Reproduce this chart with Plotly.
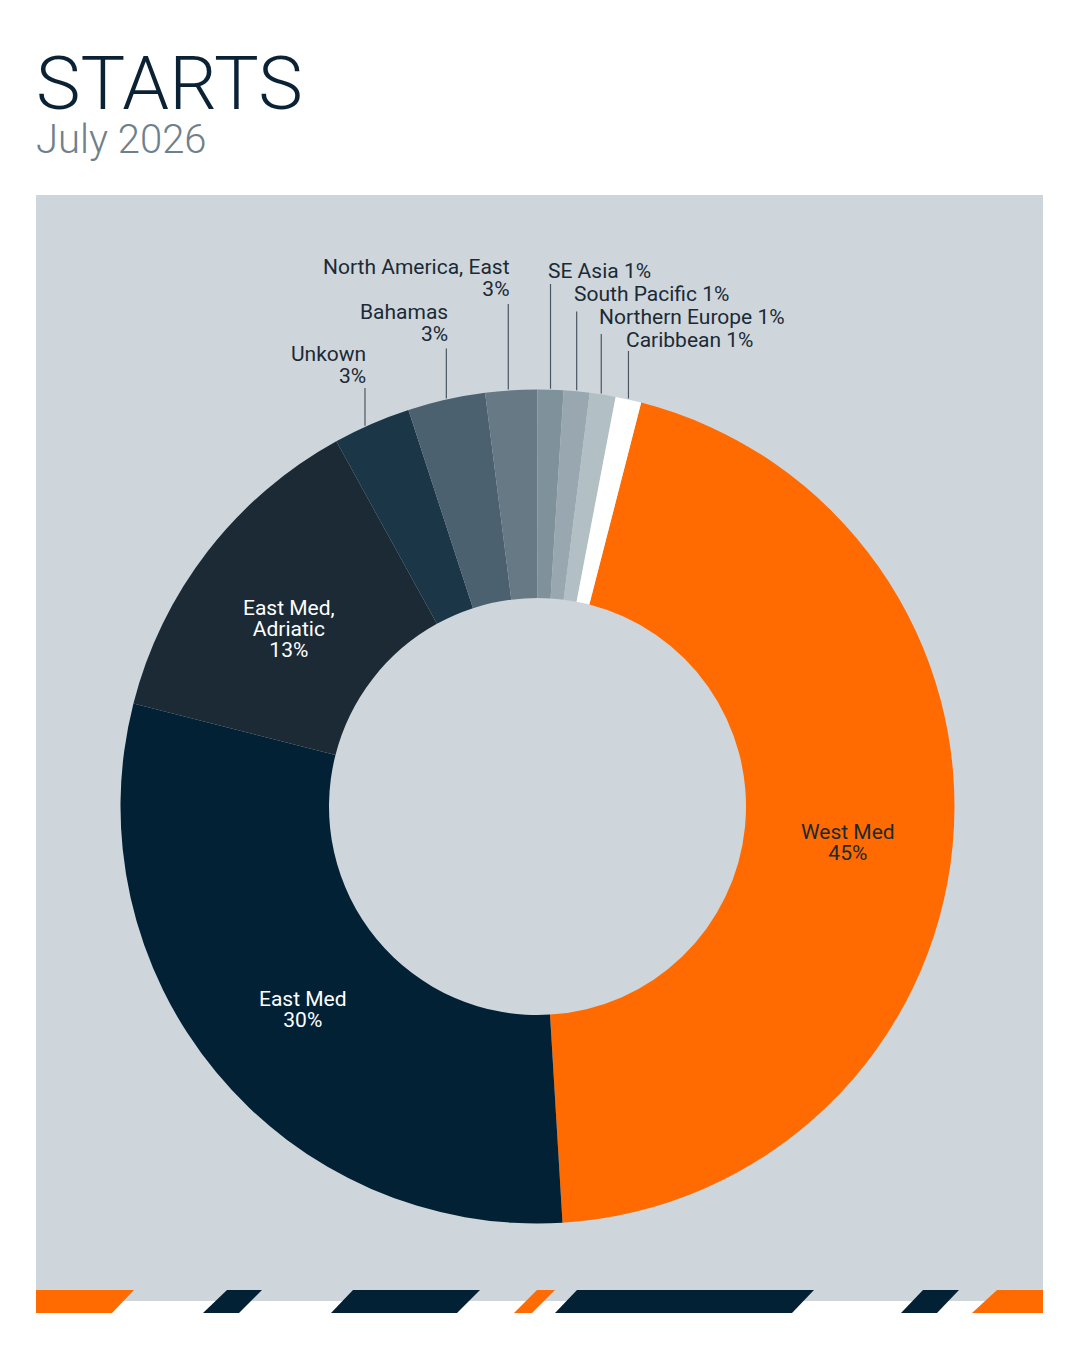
import math
import plotly.graph_objects as go

# ---------------- data ----------------
regions = ["West Med", "East Med", "East Med, Adriatic", "Unkown", "Bahamas",
           "North America, East", "SE Asia", "South Pacific", "Northern Europe", "Caribbean"]
shares = [45.0, 29.9, 13.0, 3.0, 3.0, 2.0, 1.0, 1.0, 1.0, 1.0]
pct_labels = ["45%", "30%", "13%", "3%", "3%", "3%", "1%", "1%", "1%", "1%"]
colors = ["#FF6B00", "#022135", "#1B2A35", "#1B3647", "#4B616F",
          "#667985", "#7F929C", "#99A8B0", "#B2BFC5", "#FFFFFF"]

# ---------------- layout constants ----------------
W, H = 1080, 1350
CX, CY, R = 537.5, 806.5, 417.0
HOLE = 0.5
ROT = 14.4
PANEL = "#CED6DC"
DARK = "#1B2A35"
FONT = "Roboto"
LBL = 21          # label font size (px)


def px(x):
    return x / W


def py(y):
    return 1 - y / H


def sized(t, size, color=None):
    st = f"font-size:{size}px"
    if color:
        st += f";color:{color}"
    return f'<span style="{st}">{t}</span>'


fig = go.Figure()
fig.add_trace(go.Pie(
    labels=regions, values=shares, sort=False, direction="clockwise",
    rotation=ROT, hole=HOLE, textinfo="none", hoverinfo="label+percent",
    marker=dict(colors=colors, line=dict(width=0)),
    domain=dict(x=[px(CX - R), px(CX + R)], y=[py(CY + R), py(CY - R)]),
    showlegend=False,
))

# slice mid angles (degrees clockwise from 12 o'clock) from the data
total = sum(shares)
mids = []
acc = ROT
for v in shares:
    span = v / total * 360
    mids.append(acc + span / 2)
    acc += span


def pt(angle, rad):
    a = math.radians(angle)
    return CX + rad * math.sin(a), CY - rad * math.cos(a)


shapes = []
annotations = []

# background panel
shapes.append(dict(type="rect", xref="paper", yref="paper",
                   x0=px(36), x1=px(1043), y0=py(1301), y1=py(195),
                   fillcolor=PANEL, line=dict(width=0), layer="below"))

# inside labels (West Med, East Med, East Med Adriatic)
inside_colors = [DARK, "#FFFFFF", "#FFFFFF"]
inside_lines = [["West Med"], ["East Med"], ["East Med,", "Adriatic"]]
inside_nudge = [(-1, 6.5), (7, 3.5), (-1, 14)]
mid_r = (R + R * HOLE) / 2
for i in range(3):
    x, y = pt(mids[i], mid_r)
    x += inside_nudge[i][0]
    y += inside_nudge[i][1]
    lines = inside_lines[i] + [pct_labels[i]]
    txt = "<br>".join(sized(t, LBL) for t in lines)
    annotations.append(dict(text=txt, x=px(x), y=py(y), xref="paper", yref="paper",
                            showarrow=False, xanchor="center", yanchor="middle", align="center",
                            font=dict(family=FONT, size=21 / 1.3, color=inside_colors[i])))

# outside labels with vertical leader lines
# (index, side, centre y of last text line, top y of leader line, angle nudge deg)
outside = [(3, "left", 375.3, 388, -1.0), (4, "left", 333.7, 348.5, 0.0),
           (5, "left", 288.9, 304, -0.4),
           (6, "right", 271, 284, 0.0), (7, "right", 294.4, 311.5, 0.0),
           (8, "right", 317.5, 334, -0.2), (9, "right", 339.9, 351, 0.0)]
for idx, side, ylab, ytop, dang in outside:
    x, y = pt(mids[idx] + dang, R)
    shapes.append(dict(type="line", xref="paper", yref="paper",
                       x0=px(x), x1=px(x), y0=py(y - 1), y1=py(ytop),
                       line=dict(color="#4A5661", width=1.2)))
    if side == "left":
        txt = sized(regions[idx], LBL) + "<br>" + sized(pct_labels[idx], LBL)
        annotations.append(dict(text=txt, x=px(x + 3.5), y=py(ylab - 10.75),
                                xref="paper", yref="paper", showarrow=False,
                                xanchor="right", yanchor="middle", align="right",
                                font=dict(family=FONT, size=21.5 / 1.3, color=DARK)))
    else:
        annotations.append(dict(text=f"{regions[idx]} {pct_labels[idx]}", x=px(x - 4.5), y=py(ylab),
                                xref="paper", yref="paper", showarrow=False,
                                xanchor="left", yanchor="middle",
                                font=dict(family=FONT, size=LBL, color=DARK)))

# title block
title_txt = sized("STARTS", 75) + "<br>" + sized("July 2026", 40, "#6F808C")
annotations.append(dict(text=title_txt, x=px(34), y=py(37), xref="paper", yref="paper",
                        showarrow=False, xanchor="left", yanchor="top", align="left",
                        font=dict(family=FONT, size=44 / 1.3, color="#0B2235", weight=300)))

# decorative bottom stripes (parallelograms): top-left, top-right, bottom-right, bottom-left x
stripes = [
    ((36, 134, 112, 36), "#FF6B00"),
    ((227, 262, 239, 203), "#022135"),
    ((353, 480, 457, 331), "#022135"),
    ((537, 555, 532, 514), "#FF6B00"),
    ((577, 814, 792, 555), "#022135"),
    ((923, 959, 937, 901), "#022135"),
    ((997, 1043, 1043, 972), "#FF6B00"),
]
yt, yb = 1290, 1313
for (tl, tr, br, bl), c in stripes:
    path = (f"M {px(tl)} {py(yt)} L {px(tr)} {py(yt)} L {px(br)} {py(yb)} "
            f"L {px(bl)} {py(yb)} Z")
    shapes.append(dict(type="path", xref="paper", yref="paper", path=path,
                       fillcolor=c, line=dict(width=0), layer="above"))

fig.update_layout(
    width=W, height=H, margin=dict(l=0, r=0, t=0, b=0),
    paper_bgcolor="#FFFFFF", plot_bgcolor="#FFFFFF",
    shapes=shapes, annotations=annotations,
    font=dict(family=FONT),
)

fig.write_html("out.html", config={"displayModeBar": False},
               post_script="document.body.style.margin='0px';")
